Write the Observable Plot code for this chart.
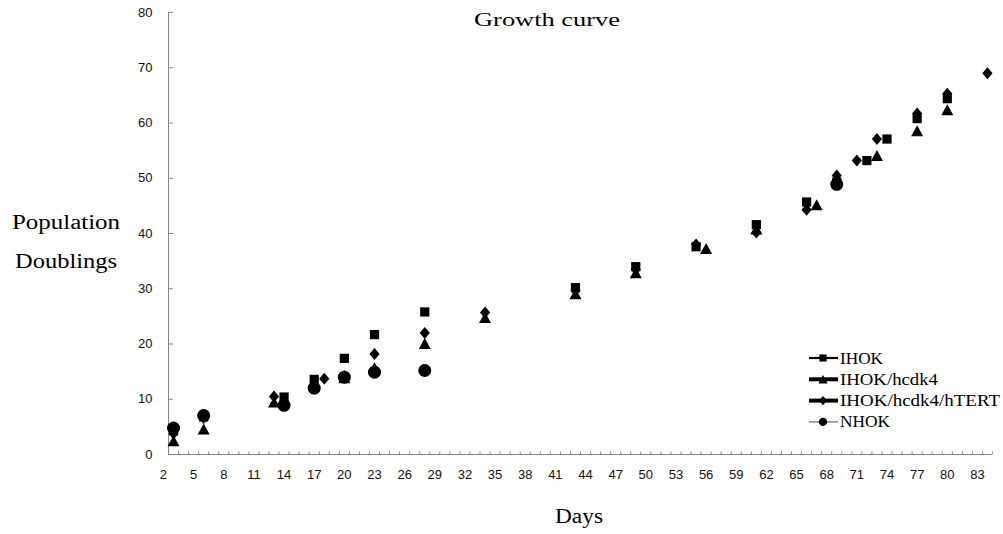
<!DOCTYPE html>
<html><head><meta charset="utf-8">
<script src="https://cdn.jsdelivr.net/npm/d3@7"></script>
<script src="https://cdn.jsdelivr.net/npm/@observablehq/plot@0.6"></script>
<style>
html,body{margin:0;padding:0;background:#fff;}
#chart{position:relative;width:1003px;height:534px;overflow:hidden;}
</style></head><body><div id="chart"></div>
<script>
// ---- data ----
const seriesNames = ["IHOK", "IHOK/hcdk4", "IHOK/hcdk4/hTERT", "NHOK"];
const ihokDays  = [3, 6, 14, 17, 20, 23, 28, 43, 49, 55, 61, 66, 69, 72, 74, 77, 80];
const ihokPD    = [4.3, 6.8, 10.4, 13.6, 17.4, 21.7, 25.8, 30.2, 34.0, 37.6, 41.6, 45.7, 49.3, 53.2, 57.1, 60.8, 64.4];
const cdk4Days  = [3, 6, 13, 17, 20, 23, 28, 34, 43, 49, 56, 61, 67, 69, 73, 77, 80];
const cdk4PD    = [2.5, 4.6, 9.5, 12.5, 13.9, 15.7, 20.1, 24.8, 29.1, 32.9, 37.3, 40.8, 45.2, 50.0, 54.1, 58.6, 62.4];
const htertDays = [3, 6, 13, 18, 20, 23, 28, 34, 43, 49, 55, 61, 66, 69, 71, 73, 77, 80, 84];
const htertPD   = [3.8, 6.6, 10.5, 13.7, 14.2, 18.2, 22.0, 25.7, 29.7, 33.5, 38.0, 40.2, 44.3, 50.5, 53.2, 57.1, 61.7, 65.3, 69.0];
const nhokDays  = [3, 6, 14, 17, 20, 23, 28, 69];
const nhokPD    = [4.8, 7.06, 8.9, 12.0, 14.0, 14.9, 15.2, 48.9];

const xTicks = [2, 5, 8, 11, 14, 17, 20, 23, 26, 29, 32, 35, 38, 41, 44, 47, 50, 53, 56, 59, 62, 65, 68, 71, 74, 77, 80, 83];
const yTicks = [0, 10, 20, 30, 40, 50, 60, 70, 80];
const xDomain = [2.5, 84.5];
const yDomain = [0, 80];
const xMinor = d3.range(3.5, 84.6, 1);

// ---- styles ----
const axisColor = "#868686";
const tickColor = "#111";
const serif = "'Liberation Serif', 'DejaVu Serif', serif";

// custom marker shapes (size = pi r^2 as passed by Plot)
const rOf = s => Math.sqrt(s / Math.PI);
const symSquare = {draw(c, s) { const r = rOf(s); c.rect(-r, -r, 2 * r, 2 * r); }};
const symTriangle = {draw(c, s) { const r = rOf(s); c.moveTo(0, -0.92 * r); c.lineTo(r, 0.92 * r); c.lineTo(-r, 0.92 * r); c.closePath(); }};
const symDiamond = {draw(c, s) { const r = rOf(s); c.moveTo(0, -r); c.lineTo(0.85 * r, 0); c.lineTo(0, r); c.lineTo(-0.85 * r, 0); c.closePath(); }};
const symCircle = {draw(c, s) { const r = rOf(s); c.moveTo(r, 0); c.arc(0, 0, r, 0, 2 * Math.PI); c.closePath(); }};

const rows = (days, pd, name) => days.map((d, i) => ({series: name, day: d, pd: pd[i]}));
const ihok = rows(ihokDays, ihokPD, seriesNames[0]);
const cdk4 = rows(cdk4Days, cdk4PD, seriesNames[1]);
const htert = rows(htertDays, htertPD, seriesNames[2]);
const nhok = rows(nhokDays, nhokPD, seriesNames[3]);

const fig = Plot.plot({
  width: 1003, height: 534,
  marginLeft: 168, marginRight: 11, marginTop: 12, marginBottom: 80,
  style: {fontFamily: "'Liberation Sans', 'DejaVu Sans', sans-serif", fontSize: "13px", color: "#000", background: "#fff", overflow: "visible"},
  x: {domain: xDomain, axis: null},
  y: {domain: yDomain, axis: null},
  marks: [
    Plot.ruleY(yTicks, {x1: xDomain[0], x2: xDomain[0] + 0.5, stroke: axisColor}),
    Plot.ruleX(xMinor, {y1: 0, y2: 0.45, stroke: axisColor}),
    Plot.ruleX([xDomain[0]], {stroke: axisColor}),
    Plot.ruleY([0], {stroke: axisColor}),
    Plot.text(yTicks, {x: xDomain[0], y: d => d, text: d => String(d), textAnchor: "end", dx: -16, fill: tickColor}),
    Plot.text(xTicks, {x: d => d, y: 0, text: d => String(d), dy: 20, fill: tickColor}),
    Plot.dot(ihok, {x: "day", y: "pd", symbol: symSquare, r: 4.6, fill: "#000"}),
    Plot.dot(cdk4, {x: "day", y: "pd", symbol: symTriangle, r: 6, fill: "#000"}),
    Plot.dot(htert, {x: "day", y: "pd", symbol: symDiamond, r: 6, fill: "#000"}),
    Plot.dot(nhok, {x: "day", y: "pd", symbol: symCircle, r: 6.5, fill: "#000"})
  ]
});
document.getElementById("chart").appendChild(fig);

// ---- titles / labels ----
const svg = d3.select(fig);
const addText = (txt, x, y, size, len, anchor) => svg.append("text")
  .attr("x", x).attr("y", y).attr("text-anchor", anchor)
  .attr("font-family", serif).attr("font-size", size).attr("fill", "#000")
  .attr("textLength", len).attr("lengthAdjust", "spacingAndGlyphs").text(txt);
addText("Growth curve", 547, 26, 19.5, 146, "middle");
addText("Population", 66, 229, 20, 108, "middle");
addText("Doublings", 66, 268, 20, 102, "middle");
addText("Days", 579, 523, 20, 48, "middle");

// ---- legend ----
const legendSyms = [symSquare, symTriangle, symDiamond, symCircle];
const legendSize = [3.6, 4.6, 4.6, 4.2];
const legendLineW = [2.2, 4, 4, 1.4];
const legendLineC = ["#000", "#000", "#000", "#808080"];
const legendLen = [43, 98, 160, 50];
const lg = svg.append("g");
seriesNames.forEach((name, i) => {
  const cy = 358 + i * 21.3;
  lg.append("line").attr("x1", 809).attr("x2", 838).attr("y1", cy).attr("y2", cy)
    .attr("stroke", legendLineC[i]).attr("stroke-width", legendLineW[i]);
  lg.append("path").attr("transform", `translate(823,${cy})`)
    .attr("d", d3.symbol(legendSyms[i], Math.PI * legendSize[i] ** 2)()).attr("fill", "#000");
  lg.append("text").attr("x", 840).attr("y", cy + 5.5).attr("text-anchor", "start")
    .attr("font-family", serif).attr("font-size", 16.5).attr("fill", "#000")
    .attr("textLength", legendLen[i]).attr("lengthAdjust", "spacingAndGlyphs").text(name);
});
</script></body></html>
